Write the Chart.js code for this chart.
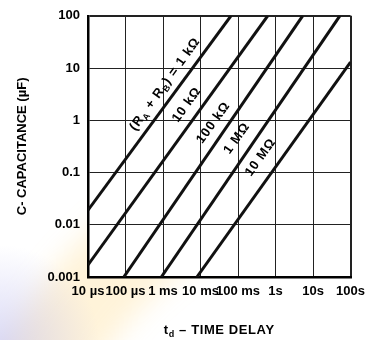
<!DOCTYPE html>
<html>
<head>
<meta charset="utf-8">
<script src="https://cdn.jsdelivr.net/npm/chart.js@4.4.0/dist/chart.umd.min.js"></script>
<style>
  html, body { margin: 0; padding: 0; background: #fff; }
  #wrap { width: 372px; height: 340px; }
</style>
</head>
<body>
<div id="wrap"><canvas id="delayChart"></canvas></div>
<script>
const timeTicks = [1e-5, 1e-4, 1e-3, 1e-2, 1e-1, 1, 10, 100];
const timeLabels = ['10 µs', '100 µs', '1 ms', '10 ms', '100 ms', '1s', '10s', '100s'];
const capTicks = [0.001, 0.01, 0.1, 1, 10, 100];
const capLabels = ['0.001', '0.01', '0.1', '1', '10', '100'];

const resistances = ['1 kΩ', '10 kΩ', '100 kΩ', '1 MΩ', '10 MΩ'];
// ends of each line: time (s) and capacitance (µF)
const lineTimes = [[1e-5, 0.065], [1e-5, 0.62], [9e-5, 5.3], [9e-4, 52], [8e-3, 100]];
const lineCaps = [[0.019, 100], [0.0017, 100], [0.001, 100], [0.001, 100], [0.001, 13]];

const FAM = "'Liberation Sans Narrow', 'Arial Narrow', 'Liberation Sans', sans-serif";

const datasets = resistances.map((r, i) => ({
    label: r,
    data: lineTimes[i].map((t, j) => ({ x: t, y: lineCaps[i][j] })),
    borderColor: '#111',
    borderWidth: 3,
    pointRadius: 0,
    fill: false
}));

// label anchors on the plot, in data units
const lineNotes = [
    { t: 1.13e-3, c: 4.9, parts: [['(R', 0], ['A', 1], [' + R', 0], ['B', 1], [') = 1 kΩ', 0]] },
    { t: 4.3e-3, c: 1.98, parts: [['10 kΩ', 0]] },
    { t: 0.022, c: 0.9, parts: [['100 kΩ', 0]] },
    { t: 0.093, c: 0.45, parts: [['1 MΩ', 0]] },
    { t: 0.4, c: 0.195, parts: [['10 MΩ', 0]] }
];

function drawRich(ctx, parts, x, y, angle, size, spacing) {
    const big = 'bold ' + size + 'px ' + FAM;
    const small = 'bold ' + Math.round(size * 0.72) + 'px ' + FAM;
    ctx.save();
    ctx.letterSpacing = (spacing || 0) + 'px';
    ctx.translate(x, y);
    ctx.rotate(angle);
    let w = 0;
    parts.forEach(p => { ctx.font = p[1] ? small : big; w += ctx.measureText(p[0]).width; });
    let cx = -w / 2;
    ctx.textAlign = 'left';
    ctx.textBaseline = 'middle';
    ctx.fillStyle = '#000';
    parts.forEach(p => {
        ctx.font = p[1] ? small : big;
        ctx.fillText(p[0], cx, p[1] ? size * 0.32 : 0);
        cx += ctx.measureText(p[0]).width;
    });
    ctx.restore();
}

const backdrop = {
    id: 'backdrop',
    beforeDraw(chart) {
        const { ctx, chartArea: a } = chart;
        ctx.save();
        ctx.fillStyle = '#fff';
        ctx.fillRect(0, 0, chart.width, chart.height);
        // faint slide decoration behind the axes
        ctx.filter = 'blur(14px)';
        ctx.beginPath();
        ctx.arc(360, 520, 350, Math.PI * 0.97, Math.PI * 1.45);
        ctx.strokeStyle = 'rgba(255, 200, 80, 0.22)';
        ctx.lineWidth = 90;
        ctx.stroke();
        ctx.filter = 'none';
        const g = ctx.createRadialGradient(0, 345, 5, 0, 345, 100);
        g.addColorStop(0, 'rgba(185, 185, 240, 0.5)');
        g.addColorStop(1, 'rgba(185, 185, 240, 0)');
        ctx.fillStyle = g;
        ctx.fillRect(0, 230, 130, 110);
        ctx.fillStyle = '#fff';
        ctx.fillRect(a.left, a.top, a.right - a.left, a.bottom - a.top);
        ctx.restore();
    },
    afterDraw(chart) {
        const { ctx, chartArea: a, scales } = chart;
        const x = scales.x, y = scales.y;
        const ang = Math.atan2(y.getPixelForValue(10) - y.getPixelForValue(1),
            x.getPixelForValue(1e-2) - x.getPixelForValue(1e-3));
        lineNotes.forEach(n => {
            drawRich(ctx, n.parts, x.getPixelForValue(n.t), y.getPixelForValue(n.c), ang, 13, 0.8);
        });
        drawRich(ctx, [['C- CAPACITANCE (µF)', 0]], 22, (a.top + a.bottom) / 2, -Math.PI / 2, 13, 0);
        drawRich(ctx, [['t', 0], ['d', 1], [' – TIME DELAY', 0]], (a.left + a.right) / 2, 330, 0, 13, 0.6);
    }
};

const edge = (ctx, n) => (ctx.index === 0 || ctx.index === n - 1) ? 2 : 1;

new Chart(document.getElementById('delayChart'), {
    type: 'line',
    data: { datasets },
    options: {
        responsive: true,
        maintainAspectRatio: false,
        animation: false,
        layout: { padding: { left: 0, top: 13, right: 18, bottom: 0 } },
        plugins: {
            legend: { display: false },
            tooltip: { enabled: false }
        },
        scales: {
            x: {
                type: 'logarithmic',
                min: 1e-5,
                max: 100,
                afterBuildTicks: s => { s.ticks = timeTicks.map(v => ({ value: v })); },
                afterFit: s => { s.height = 63; },
                ticks: {
                    autoSkip: false,
                    maxRotation: 0,
                    padding: 7,
                    color: '#000',
                    font: { family: FAM, size: 13, weight: 'bold' },
                    callback: v => timeLabels[timeTicks.indexOf(v)]
                },
                grid: { color: '#222', lineWidth: c => edge(c, timeTicks.length), drawTicks: false },
                border: { color: '#000', width: 2.5 }
            },
            y: {
                type: 'logarithmic',
                min: 0.001,
                max: 100,
                afterBuildTicks: s => { s.ticks = capTicks.map(v => ({ value: v })); },
                afterFit: s => { s.width = 88; },
                ticks: {
                    padding: 8,
                    color: '#000',
                    font: { family: FAM, size: 13, weight: 'bold' },
                    callback: v => capLabels[capTicks.indexOf(v)]
                },
                grid: { color: '#222', lineWidth: c => edge(c, capTicks.length), drawTicks: false },
                border: { color: '#000', width: 2.5 }
            }
        }
    },
    plugins: [backdrop]
});
</script>
</body>
</html>
